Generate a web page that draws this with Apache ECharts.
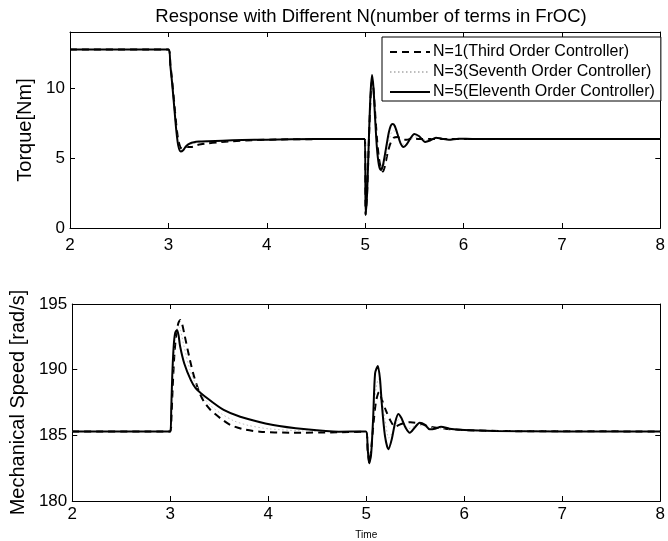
<!DOCTYPE html>
<html>
<head>
<meta charset="utf-8">
<script src="https://cdn.jsdelivr.net/npm/echarts@6/dist/echarts.min.js"></script>
<style>
  html, body { margin: 0; padding: 0; background: #fff; }
  #chart { width: 668px; height: 541px; }
</style>
</head>
<body>
<div id="chart"></div>
<script>
// Torque [Nm] responses
const torqueTimeN1 = [2, 3.0, 3.02, 3.04, 3.06, 3.08, 3.1, 3.12, 3.14, 3.16, 3.19, 3.22, 3.25, 3.28, 3.33, 3.4, 3.5, 3.65, 3.85, 4.1, 4.5, 4.997,
  5.005, 5.02, 5.04, 5.055, 5.07, 5.085, 5.1, 5.12, 5.14, 5.16, 5.18, 5.2, 5.23, 5.26, 5.29, 5.33, 5.37, 5.42, 5.48, 5.55, 5.7, 8];
const torqueN1 = [12.75, 12.75, 11.7, 10.4, 8.9, 7.4, 6.3, 5.8, 5.65, 5.68, 5.8, 5.78, 5.8, 5.9, 5.98, 6.05, 6.12, 6.2, 6.27, 6.32, 6.35, 6.36,
  0.95, 2.5, 6.6, 9.3, 10.5, 9.9, 8.4, 6.4, 5.0, 4.3, 4.03, 4.4, 5.4, 6.1, 6.45, 6.5, 6.35, 6.3, 6.4, 6.36, 6.36, 6.36];

const torqueTimeN3 = [2, 3.0, 3.02, 3.04, 3.06, 3.08, 3.1, 3.125, 3.15, 3.18, 3.22, 3.27, 3.35, 3.5, 3.75, 4.0, 4.5, 4.997,
  5.005, 5.02, 5.04, 5.055, 5.07, 5.085, 5.1, 5.12, 5.14, 5.17, 5.2, 5.23, 5.26, 5.29, 5.32, 5.36, 5.4, 5.45, 5.5, 5.56, 5.62, 5.7, 5.8, 8];
const torqueN3 = [12.75, 12.75, 11.65, 10.3, 8.75, 7.2, 6.1, 5.55, 5.6, 5.8, 5.95, 6.05, 6.12, 6.2, 6.27, 6.31, 6.35, 6.36,
  0.95, 2.5, 6.7, 9.5, 10.75, 10.0, 8.2, 6.0, 4.7, 4.1, 4.7, 5.8, 6.7, 6.95, 6.75, 6.2, 5.95, 6.2, 6.5, 6.45, 6.28, 6.38, 6.36, 6.36];

const torqueTimeN5 = [2, 3.0, 3.02, 3.04, 3.06, 3.08, 3.1, 3.125, 3.15, 3.18, 3.22, 3.26, 3.31, 3.4, 3.55, 3.75, 4.0, 4.5, 4.997,
  5.005, 5.02, 5.04, 5.055, 5.07, 5.085, 5.1, 5.12, 5.14, 5.16, 5.18, 5.21, 5.24, 5.26, 5.28, 5.3, 5.33, 5.36, 5.39, 5.42, 5.46, 5.5, 5.55,
  5.61, 5.66, 5.72, 5.78, 5.85, 5.95, 6.1, 8];
const torqueN5 = [12.75, 12.75, 11.6, 10.2, 8.6, 7.0, 5.9, 5.46, 5.55, 5.85, 6.05, 6.13, 6.17, 6.2, 6.24, 6.28, 6.31, 6.35, 6.36,
  0.95, 2.5, 6.8, 9.6, 10.92, 10.0, 8.0, 5.7, 4.5, 4.15, 4.45, 5.6, 6.8, 7.3, 7.43, 7.3, 6.7, 6.05, 5.79, 5.95, 6.4, 6.72, 6.55,
  6.15, 6.25, 6.45, 6.38, 6.3, 6.38, 6.36, 6.36];

// Mechanical speed [rad/s] responses
const speedTimeN1 = [2, 3.0, 3.012, 3.025, 3.04, 3.058, 3.082, 3.102, 3.12, 3.142, 3.193, 3.243, 3.294, 3.344, 3.411, 3.512, 3.613, 3.747, 3.915, 4.218, 4.72, 4.997,
  5.015, 5.031, 5.05, 5.075, 5.1, 5.13, 5.16, 5.2, 5.243, 5.293, 5.35, 5.45, 5.55, 5.65, 5.8, 6.0, 6.5, 8];
const speedN1 = [185.3, 185.3, 186.4, 188.7, 190.9, 192.5, 193.53, 193.78, 193.5, 192.77, 190.99, 189.47, 188.32, 187.56, 186.93, 186.3, 185.79, 185.46, 185.28, 185.2, 185.23, 185.28,
  183.8, 182.9, 183.9, 186.0, 187.6, 188.3, 187.7, 186.9, 186.17, 185.66, 185.85, 186.0, 185.9, 185.65, 185.5, 185.4, 185.32, 185.3];

const speedTimeN3 = [2, 3.0, 3.01, 3.022, 3.04, 3.06, 3.085, 3.105, 3.14, 3.2, 3.26, 3.33, 3.42, 3.53, 3.65, 3.8, 4.0, 4.3, 4.7, 4.997,
  5.015, 5.031, 5.05, 5.08, 5.1, 5.125, 5.15, 5.19, 5.23, 5.28, 5.33, 5.38, 5.43, 5.52, 5.6, 5.7, 5.85, 6.1, 8];
const speedN3 = [185.3, 185.3, 186.7, 189.0, 191.5, 192.9, 193.3, 193.0, 191.8, 190.0, 188.9, 188.0, 187.2, 186.6, 186.1, 185.75, 185.5, 185.35, 185.28, 185.28,
  183.8, 182.9, 183.8, 186.9, 188.6, 189.3, 188.4, 186.3, 184.8, 185.4, 186.2, 186.0, 185.5, 185.8, 185.65, 185.55, 185.45, 185.35, 185.3];

const speedTimeN5 = [2, 3.0, 3.01, 3.02, 3.035, 3.05, 3.069, 3.085, 3.1, 3.142, 3.21, 3.26, 3.378, 3.545, 3.714, 4.05, 4.386, 4.72, 4.997,
  5.015, 5.031, 5.05, 5.07, 5.09, 5.118, 5.14, 5.158, 5.19, 5.226, 5.26, 5.295, 5.327, 5.36, 5.4, 5.444, 5.495, 5.545, 5.6, 5.646, 5.7, 5.763,
  5.85, 6.0, 6.3, 7.0, 8];
const speedN5 = [185.3, 185.3, 187.0, 189.5, 191.8, 192.8, 193.02, 192.6, 191.8, 190.49, 189.2, 188.58, 187.82, 186.93, 186.42, 185.79, 185.46, 185.28, 185.3,
  183.9, 182.87, 183.6, 186.3, 189.72, 190.28, 189.3, 187.44, 185.0, 183.94, 184.7, 186.0, 186.63, 186.3, 185.6, 185.2, 185.6, 185.96, 185.8, 185.46, 185.5, 185.66,
  185.5, 185.4, 185.33, 185.3, 185.3];

const timeTicks = { min: 2, max: 8, step: 1 };
const torqueTicks = { min: 0, max: 14, step: 5 };
const speedTicks = { min: 180, max: 195, step: 5 };

const legendNames = [
  'N=1(Third Order Controller)',
  'N=3(Seventh Order Controller)',
  'N=5(Eleventh Order Controller)'
];

const pairs = (t, v) => t.map((x, i) => [x, v[i]]);

const FONT = 'Liberation Sans, Arial, sans-serif';
const black = '#000';

function frameX(grid, showLabels, name) {
  const base = {
    gridIndex: grid, type: 'value',
    min: timeTicks.min, max: timeTicks.max, interval: timeTicks.step,
    axisLine: { show: true, onZero: false, lineStyle: { color: black, width: 1 } },
    axisTick: { show: true, inside: true, length: 5, lineStyle: { color: black } },
    splitLine: { show: false }
  };
  return [
    Object.assign({}, base, {
      position: 'bottom',
      axisLabel: { show: showLabels, color: black, fontSize: 17, fontFamily: FONT, margin: grid === 0 ? 9 : 5 },
      name: name || '', nameLocation: 'middle', nameGap: 29,
      nameTextStyle: { color: black, fontSize: 10, fontFamily: FONT }
    }),
    Object.assign({}, base, { position: 'top', axisLabel: { show: false } })
  ];
}

function frameY(grid, ticks, name) {
  const base = {
    gridIndex: grid, type: 'value',
    min: ticks.min, max: ticks.max, interval: ticks.step,
    axisLine: { show: true, onZero: false, lineStyle: { color: black, width: 1 } },
    axisTick: { show: true, inside: true, length: 5, lineStyle: { color: black } },
    splitLine: { show: false }
  };
  return [
    Object.assign({}, base, {
      position: 'left',
      axisLabel: {
        color: black, fontSize: 17, fontFamily: FONT, margin: 5,
        formatter: v => ((v - ticks.min) % ticks.step === 0 ? String(v) : '')
      },
      name: name, nameLocation: 'middle', nameGap: 31,
      nameTextStyle: { color: black, fontSize: 20, fontFamily: FONT }
    }),
    Object.assign({}, base, { position: 'right', axisLabel: { show: false } })
  ];
}

const styleN1 = { color: black, width: 2, type: [7, 5] };
const styleN3 = { color: '#bdbdbd', width: 1, type: [1.5, 2.5] };
const styleN5 = { color: black, width: 2, type: 'solid' };

function lineSeries(name, xi, yi, data, style) {
  return {
    name: name, type: 'line', xAxisIndex: xi, yAxisIndex: yi,
    data: data, showSymbol: false, symbol: 'none', smooth: 0.25,
    lineStyle: style, itemStyle: { color: style.color },
    animation: false
  };
}

const option = {
  animation: false,
  backgroundColor: '#fff',
  textStyle: { fontFamily: FONT },
  title: {
    text: 'Response with Different N(number of terms in FrOC)',
    left: 366, top: 2, textAlign: 'center',
    textStyle: { color: black, fontSize: 18.5, fontWeight: 'normal', fontFamily: FONT }
  },
  grid: [
    { left: 70, right: 3, top: 32, height: 196 },
    { left: 70, right: 3, top: 304, height: 197 }
  ],
  xAxis: [].concat(frameX(0, true), frameX(1, true, 'Time')),
  yAxis: [].concat(frameY(0, torqueTicks, 'Torque[Nm]'), frameY(1, speedTicks, 'Mechanical Speed [rad/s]')),
  legend: {
    data: legendNames,
    orient: 'vertical',
    left: 382, top: 37,
    width: 277,
    padding: [7, 6, 1, 7],
    itemGap: 4,
    itemWidth: 40, itemHeight: 12,
    itemStyle: { opacity: 0 },
    backgroundColor: '#fff',
    borderColor: black, borderWidth: 1, borderRadius: 0,
    textStyle: { color: black, fontSize: 16, fontFamily: FONT, padding: [0, 0, 0, -2] }
  },
  series: [
    lineSeries(legendNames[0], 0, 0, pairs(torqueTimeN1, torqueN1), styleN1),
    lineSeries(legendNames[1], 0, 0, pairs(torqueTimeN3, torqueN3), styleN3),
    lineSeries(legendNames[2], 0, 0, pairs(torqueTimeN5, torqueN5), styleN5),
    lineSeries(legendNames[0], 2, 2, pairs(speedTimeN1, speedN1), styleN1),
    lineSeries(legendNames[1], 2, 2, pairs(speedTimeN3, speedN3), styleN3),
    lineSeries(legendNames[2], 2, 2, pairs(speedTimeN5, speedN5), styleN5)
  ]
};

const chart = echarts.init(document.getElementById('chart'), null, { renderer: 'canvas' });
chart.setOption(option);
</script>
</body>
</html>
